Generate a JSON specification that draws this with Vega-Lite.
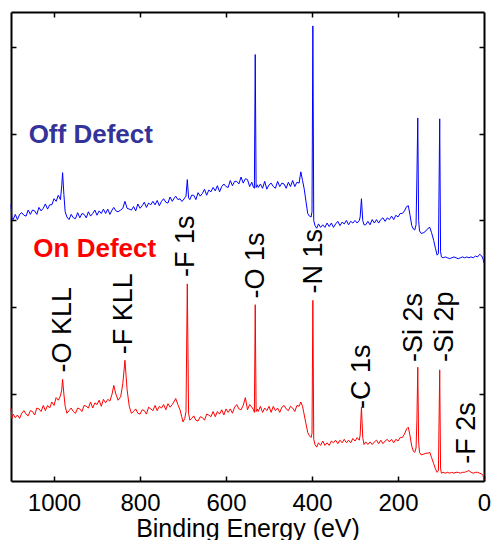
{
"$schema": "https://vega.github.io/schema/vega-lite/v6.json",
"width": 473, "height": 469,
"autosize": "none",
"padding": {"left": 11, "top": 12, "right": 7, "bottom": 59},
"config": {"font": "Liberation Sans", "view": {"stroke": null},
  "axis": {"domainColor": "black", "domainWidth": 2, "tickColor": "black", "tickWidth": 1.5, "tickSize": -5, "grid": false, "labelColor": "black", "titleColor": "black", "labelFont": "Liberation Sans", "titleFont": "Liberation Sans"}},
"datasets": {
"spec": [
{"E":1100,"on":0.84,"off":3.18},{"E":1098,"on":0.72,"off":3.03},{"E":1095,"on":0.77,"off":3.01},{"E":1090,"on":0.73,"off":3.07},{"E":1085,"on":0.76,"off":3.01},{"E":1080,"on":0.72,"off":3.07},{"E":1075,"on":0.78,"off":3.09},{"E":1070,"on":0.81,"off":3.06},{"E":1065,"on":0.77,"off":3.05},{"E":1060,"on":0.75,"off":3.12},{"E":1055,"on":0.81,"off":3.07},{"E":1050,"on":0.80,"off":3.12},{"E":1045,"on":0.76,"off":3.11},{"E":1040,"on":0.84,"off":3.07},{"E":1035,"on":0.83,"off":3.15},{"E":1030,"on":0.80,"off":3.11},{"E":1025,"on":0.87,"off":3.14},{"E":1020,"on":0.81,"off":3.19},{"E":1015,"on":0.87,"off":3.13},{"E":1010,"on":0.84,"off":3.18},{"E":1005,"on":0.91,"off":3.18},{"E":1000,"on":0.87,"off":3.25},{"E":995,"on":0.96,"off":3.22},{"E":990,"on":0.93,"off":3.29},{"E":985,"on":0.98,"off":3.24},{"E":982,"on":1.05,"off":3.40},{"E":980,"on":1.17,"off":3.55},{"E":977,"on":1.00,"off":3.30},{"E":974,"on":0.86,"off":3.10},{"E":970,"on":0.78,"off":3.04},
{"E":965,"on":0.81,"off":3.01},{"E":960,"on":0.84,"off":3.07},{"E":955,"on":0.80,"off":3.03},{"E":950,"on":0.78,"off":3.02},{"E":945,"on":0.84,"off":3.09},{"E":940,"on":0.83,"off":3.03},{"E":935,"on":0.80,"off":3.08},{"E":930,"on":0.87,"off":3.07},{"E":925,"on":0.86,"off":3.03},{"E":920,"on":0.84,"off":3.10},{"E":915,"on":0.91,"off":3.05},{"E":910,"on":0.84,"off":3.08},{"E":905,"on":0.90,"off":3.12},{"E":900,"on":0.88,"off":3.06},{"E":895,"on":0.93,"off":3.11},{"E":890,"on":0.86,"off":3.08},{"E":885,"on":0.94,"off":3.13},{"E":880,"on":0.90,"off":3.08},{"E":875,"on":0.94,"off":3.13},{"E":870,"on":0.92,"off":3.07},{"E":865,"on":1.00,"off":3.12},{"E":861,"on":1.10,"off":3.15},{"E":856,"on":1.00,"off":3.11},{"E":851,"on":0.93,"off":3.10},{"E":845,"on":0.97,"off":3.12},{"E":840,"on":1.12,"off":3.14},{"E":835,"on":1.39,"off":3.22},{"E":830,"on":1.05,"off":3.14},{"E":825,"on":0.86,"off":3.13},{"E":820,"on":0.78,"off":3.12},
{"E":815,"on":0.80,"off":3.16},{"E":810,"on":0.83,"off":3.11},{"E":805,"on":0.78,"off":3.19},{"E":800,"on":0.77,"off":3.14},{"E":795,"on":0.82,"off":3.17},{"E":790,"on":0.81,"off":3.21},{"E":785,"on":0.77,"off":3.15},{"E":780,"on":0.85,"off":3.20},{"E":775,"on":0.83,"off":3.18},{"E":770,"on":0.81,"off":3.22},{"E":765,"on":0.87,"off":3.18},{"E":760,"on":0.81,"off":3.23},{"E":755,"on":0.86,"off":3.17},{"E":750,"on":0.84,"off":3.22},{"E":745,"on":0.88,"off":3.25},{"E":740,"on":0.82,"off":3.21},{"E":735,"on":0.89,"off":3.20},{"E":730,"on":0.85,"off":3.27},{"E":725,"on":0.88,"off":3.22},{"E":720,"on":0.92,"off":3.26},{"E":717,"on":0.95,"off":3.28},{"E":712,"on":0.88,"off":3.24},{"E":707,"on":0.82,"off":3.25},{"E":703,"on":0.74,"off":3.22},{"E":700,"on":0.68,"off":3.23},{"E":696,"on":0.72,"off":3.26},{"E":693,"on":0.80,"off":3.28},{"E":690,"on":2.27,"off":3.47},{"E":687,"on":0.78,"off":3.26},{"E":684,"on":0.70,"off":3.24},
{"E":680,"on":0.72,"off":3.29},{"E":675,"on":0.75,"off":3.29},{"E":670,"on":0.70,"off":3.24},{"E":665,"on":0.69,"off":3.32},{"E":660,"on":0.74,"off":3.28},{"E":655,"on":0.73,"off":3.31},{"E":650,"on":0.70,"off":3.36},{"E":645,"on":0.77,"off":3.29},{"E":640,"on":0.76,"off":3.35},{"E":635,"on":0.74,"off":3.33},{"E":630,"on":0.80,"off":3.38},{"E":625,"on":0.74,"off":3.34},{"E":620,"on":0.80,"off":3.40},{"E":615,"on":0.77,"off":3.33},{"E":610,"on":0.82,"off":3.39},{"E":605,"on":0.76,"off":3.42},{"E":600,"on":0.83,"off":3.39},{"E":595,"on":0.79,"off":3.38},{"E":590,"on":0.83,"off":3.46},{"E":585,"on":0.78,"off":3.40},{"E":580,"on":0.85,"off":3.45},{"E":575,"on":0.88,"off":3.45},{"E":570,"on":0.83,"off":3.42},{"E":565,"on":0.82,"off":3.50},{"E":560,"on":0.87,"off":3.43},{"E":555,"on":0.96,"off":3.48},{"E":550,"on":0.82,"off":3.47},{"E":545,"on":0.88,"off":3.39},{"E":540,"on":0.85,"off":3.44},{"E":536,"on":0.82,"off":3.38},{"E":534,"on":0.79,"off":3.37},{"E":532,"on":2.03,"off":4.91},{"E":530,"on":0.80,"off":3.38},{"E":527,"on":0.83,"off":3.41},
{"E":525,"on":0.80,"off":3.38},{"E":520,"on":0.86,"off":3.42},{"E":515,"on":0.79,"off":3.37},{"E":510,"on":0.84,"off":3.45},{"E":505,"on":0.81,"off":3.36},{"E":500,"on":0.86,"off":3.41},{"E":495,"on":0.79,"off":3.43},{"E":490,"on":0.86,"off":3.39},{"E":485,"on":0.81,"off":3.37},{"E":480,"on":0.84,"off":3.45},{"E":475,"on":0.79,"off":3.39},{"E":470,"on":0.85,"off":3.43},{"E":465,"on":0.87,"off":3.42},{"E":460,"on":0.83,"off":3.37},{"E":455,"on":0.81,"off":3.44},{"E":450,"on":0.86,"off":3.39},{"E":445,"on":0.84,"off":3.46},{"E":440,"on":0.80,"off":3.39},{"E":435,"on":0.87,"off":3.44},{"E":430,"on":0.86,"off":3.43},{"E":426,"on":0.91,"off":3.56},{"E":422,"on":0.86,"off":3.46},{"E":418,"on":0.76,"off":3.36},{"E":414,"on":0.66,"off":3.22},{"E":410,"on":0.56,"off":3.08},{"E":406,"on":0.52,"off":3.05},{"E":402,"on":0.50,"off":3.04},{"E":400,"on":0.55,"off":3.10},{"E":398,"on":2.08,"off":5.24},{"E":396,"on":0.48,"off":3.00},{"E":393,"on":0.42,"off":2.94},{"E":389,"on":0.39,"off":2.91},
{"E":385,"on":0.44,"off":2.96},{"E":380,"on":0.41,"off":2.92},{"E":375,"on":0.46,"off":2.95},{"E":370,"on":0.41,"off":2.92},{"E":365,"on":0.44,"off":2.97},{"E":360,"on":0.41,"off":2.93},{"E":355,"on":0.46,"off":2.97},{"E":350,"on":0.44,"off":2.92},{"E":345,"on":0.47,"off":2.96},{"E":340,"on":0.43,"off":2.99},{"E":335,"on":0.47,"off":2.94},{"E":330,"on":0.44,"off":2.98},{"E":325,"on":0.48,"off":2.96},{"E":320,"on":0.44,"off":3.00},{"E":315,"on":0.47,"off":2.95},{"E":310,"on":0.44,"off":2.99},{"E":305,"on":0.49,"off":2.97},{"E":300,"on":0.46,"off":3.00},{"E":295,"on":0.50,"off":2.97},{"E":290,"on":0.47,"off":3.00},{"E":288,"on":0.53,"off":3.04},{"E":285,"on":0.85,"off":3.25},{"E":282,"on":0.50,"off":3.00},{"E":279,"on":0.42,"off":2.95},
{"E":275,"on":0.45,"off":2.95},{"E":270,"on":0.42,"off":2.99},{"E":265,"on":0.45,"off":2.95},{"E":260,"on":0.42,"off":3.01},{"E":255,"on":0.45,"off":2.97},{"E":250,"on":0.47,"off":3.01},{"E":245,"on":0.43,"off":2.97},{"E":240,"on":0.47,"off":3.01},{"E":235,"on":0.43,"off":3.03},{"E":230,"on":0.46,"off":2.99},{"E":225,"on":0.48,"off":3.03},{"E":220,"on":0.45,"off":3.01},{"E":215,"on":0.48,"off":3.05},{"E":210,"on":0.44,"off":3.01},{"E":205,"on":0.48,"off":3.06},{"E":200,"on":0.46,"off":3.04},{"E":195,"on":0.50,"off":3.08},{"E":190,"on":0.50,"off":3.08},{"E":185,"on":0.54,"off":3.11},{"E":180,"on":0.60,"off":3.16},{"E":176,"on":0.62,"off":3.17},{"E":172,"on":0.52,"off":3.06},{"E":168,"on":0.40,"off":2.94},{"E":164,"on":0.34,"off":2.90},{"E":161,"on":0.33,"off":2.89},{"E":158,"on":0.38,"off":2.95},{"E":156,"on":0.70,"off":3.50},{"E":154,"on":1.31,"off":4.18},{"E":152,"on":0.45,"off":3.00},{"E":150,"on":0.33,"off":2.88},{"E":146,"on":0.30,"off":2.85},{"E":140,"on":0.31,"off":2.86},{"E":135,"on":0.32,"off":2.88},{"E":130,"on":0.32,"off":2.91},{"E":126,"on":0.33,"off":2.92},{"E":122,"on":0.27,"off":2.86},{"E":117,"on":0.20,"off":2.77},{"E":113,"on":0.14,"off":2.68},{"E":109,"on":0.10,"off":2.60},{"E":106,"on":0.12,"off":2.62},{"E":103,"on":1.28,"off":4.17},{"E":101,"on":0.14,"off":2.64},{"E":99,"on":0.09,"off":2.58},
{"E":95,"on":0.10,"off":2.57},{"E":90,"on":0.09,"off":2.58},{"E":85,"on":0.10,"off":2.57},{"E":80,"on":0.09,"off":2.56},{"E":75,"on":0.10,"off":2.57},{"E":70,"on":0.09,"off":2.58},{"E":65,"on":0.10,"off":2.57},{"E":60,"on":0.10,"off":2.56},{"E":55,"on":0.09,"off":2.57},{"E":50,"on":0.10,"off":2.58},{"E":45,"on":0.10,"off":2.57},{"E":40,"on":0.11,"off":2.58},{"E":35,"on":0.12,"off":2.57},{"E":30,"on":0.10,"off":2.58},{"E":25,"on":0.09,"off":2.57},{"E":20,"on":0.10,"off":2.59},{"E":15,"on":0.10,"off":2.58},{"E":10,"on":0.09,"off":2.61},{"E":5,"on":0.08,"off":2.59},{"E":2,"on":0.06,"off":2.55},{"E":0,"on":0.01,"off":2.51}
],
"labels": [
{"t":"-O KLL","E":980,"y":1.25},{"t":"-F KLL","E":838,"y":1.46},{"t":"-F 1s","E":692,"y":2.35},{"t":"-O 1s","E":531,"y":2.10},{"t":"-N 1s","E":396,"y":2.16},{"t":"-C 1s","E":283,"y":0.83},{"t":"-Si 2s","E":163,"y":1.37},{"t":"-Si 2p","E":90,"y":1.37},{"t":"-F 2s","E":39,"y":0.20}
],
"groups": [
{"t":"Off Defect","E":1059,"y":3.89},{"t":"On Defect","E":1048,"y":2.58}
]
},
"layer": [
{"data": {"name": "spec"}, "mark": {"type": "line", "color": "#FF0000", "strokeWidth": 1},
 "encoding": {
  "x": {"field": "E", "type": "quantitative", "scale": {"domain": [0, 1100], "reverse": true, "nice": false, "zero": false},
        "axis": {"orient": "bottom", "values": [1000, 800, 600, 400, 200, 0], "format": "d", "labelFontSize": 24, "labelPadding": 15, "labelFlush": false, "title": "Binding Energy (eV)", "titleFontSize": 25, "titleFontWeight": "normal", "titlePadding": 1}},
  "y": {"field": "on", "type": "quantitative", "scale": {"domain": [0, 5.4], "nice": false, "zero": false},
        "axis": {"orient": "left", "values": [1, 2, 3, 4, 5], "labels": false, "title": null}}}},
{"data": {"name": "spec"}, "mark": {"type": "line", "color": "#0000FF", "strokeWidth": 1},
 "encoding": {
  "x": {"field": "E", "type": "quantitative", "axis": {"orient": "top", "values": [1000, 800, 600, 400, 200], "labels": false, "title": null}},
  "y": {"field": "off", "type": "quantitative", "axis": {"orient": "right", "values": [1, 2, 3, 4, 5], "labels": false, "title": null}}}},
{"data": {"name": "labels"}, "mark": {"type": "text", "angle": 270, "align": "left", "baseline": "middle", "fontSize": 27, "color": "black"},
 "encoding": {
  "x": {"field": "E", "type": "quantitative", "axis": null},
  "y": {"field": "y", "type": "quantitative", "axis": null},
  "text": {"field": "t"}}},
{"data": {"name": "groups"}, "mark": {"type": "text", "align": "left", "baseline": "alphabetic", "fontSize": 26, "fontWeight": "bold"},
 "encoding": {
  "x": {"field": "E", "type": "quantitative", "axis": null},
  "y": {"field": "y", "type": "quantitative", "axis": null},
  "text": {"field": "t"},
  "color": {"field": "t", "type": "nominal", "scale": {"domain": ["Off Defect", "On Defect"], "range": ["#333399", "#FF0000"]}, "legend": null}}}
],
"resolve": {"axis": {"x": "independent", "y": "independent"}}
}
